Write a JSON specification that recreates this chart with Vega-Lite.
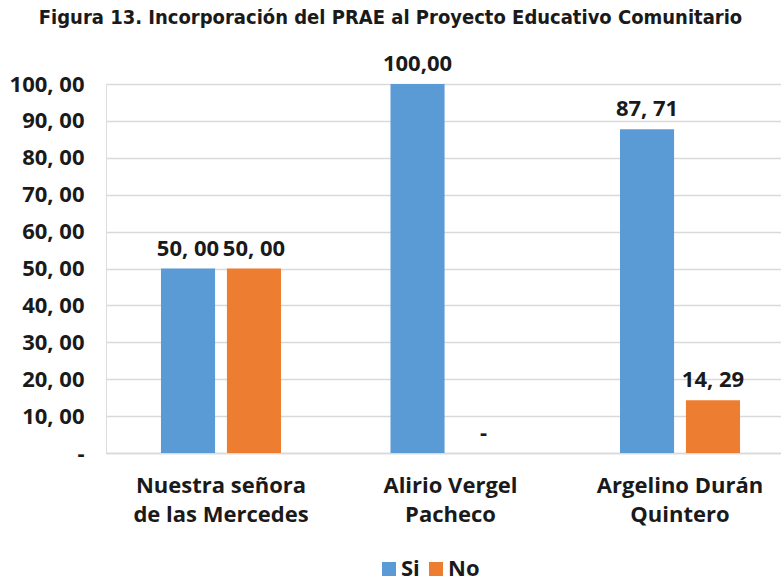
{
  "$schema": "https://vega.github.io/schema/vega-lite/v6.json",
  "width": 675,
  "height": 369,
  "autosize": {"type": "none"},
  "padding": {"left": 106, "top": 84, "right": 0, "bottom": 131},
  "background": "white",
  "title": {
    "text": "Figura 13. Incorporación del PRAE al Proyecto Educativo Comunitario",
    "font": "Liberation Sans Narrow, DejaVu Sans Condensed, sans-serif",
    "fontSize": 20,
    "fontWeight": "bold",
    "color": "#1a1a1a",
    "anchor": "middle",
    "frame": "group",
    "dx": -53,
    "offset": 25
  },
  "data": {
    "values": [
      {"escuela": "Nuestra señora de las Mercedes", "resp": "Si", "valor": 50, "etiqueta": "50, 00"},
      {"escuela": "Nuestra señora de las Mercedes", "resp": "No", "valor": 50, "etiqueta": "50, 00"},
      {"escuela": "Alirio Vergel Pacheco", "resp": "Si", "valor": 100, "etiqueta": "100,00"},
      {"escuela": "Alirio Vergel Pacheco", "resp": "No", "valor": 0, "etiqueta": "-"},
      {"escuela": "Argelino Durán Quintero", "resp": "Si", "valor": 87.71, "etiqueta": "87, 71"},
      {"escuela": "Argelino Durán Quintero", "resp": "No", "valor": 14.29, "etiqueta": "14, 29"}
    ]
  },
  "encoding": {
    "x": {
      "field": "escuela",
      "type": "nominal",
      "sort": null,
      "scale": {"paddingInner": 0.477, "paddingOuter": 0.209, "align": 0.573},
      "axis": {
        "title": null,
        "labelAngle": 0,
        "domain": true,
        "domainColor": "#d9d9d9",
        "domainWidth": 1.5,
        "ticks": false,
        "labelPadding": 22,
        "labelFont": "Open Sans",
        "labelFontWeight": "bold",
        "labelFontSize": 22,
        "labelColor": "#1a1a1a",
        "labelLineHeight": 29,
        "labelLimit": 300,
        "labelExpr": "datum.value == 'Nuestra señora de las Mercedes' ? ['Nuestra señora', 'de las Mercedes'] : datum.value == 'Alirio Vergel Pacheco' ? ['Alirio Vergel', 'Pacheco'] : ['Argelino Durán', 'Quintero']"
      }
    },
    "xOffset": {
      "field": "resp",
      "type": "nominal",
      "sort": ["Si", "No"],
      "scale": {"paddingInner": 0.18, "paddingOuter": 0}
    },
    "y": {
      "field": "valor",
      "type": "quantitative",
      "scale": {"domain": [0, 100], "nice": false},
      "axis": {
        "title": null,
        "values": [0, 10, 20, 30, 40, 50, 60, 70, 80, 90, 100],
        "domain": false,
        "ticks": false,
        "labelPadding": 22,
        "labelFont": "Open Sans",
        "labelFontWeight": "bold",
        "labelFontSize": 22,
        "labelColor": "#1a1a1a",
        "gridColor": "#d9d9d9",
        "gridWidth": 1.5,
        "labelExpr": "datum.value == 0 ? '-' : replace(format(datum.value, '.2f'), '.', ', ')"
      }
    }
  },
  "layer": [
    {
      "mark": {"type": "bar"},
      "encoding": {
        "color": {
          "field": "resp",
          "type": "nominal",
          "scale": {"domain": ["Si", "No"], "range": ["#5B9BD5", "#ED7D31"]},
          "legend": {
            "orient": "none",
            "legendX": 272,
            "legendY": 474,
            "direction": "horizontal",
            "title": null,
            "symbolType": "square",
            "symbolSize": 196,
            "symbolStrokeWidth": 0,
            "labelFont": "Open Sans",
            "labelFontWeight": "bold",
            "labelFontSize": 22,
            "labelColor": "#1a1a1a",
            "labelOffset": 1,
            "columnPadding": 5
          }
        }
      }
    },
    {
      "mark": {
        "type": "text",
        "baseline": "bottom",
        "dy": -8,
        "font": "Open Sans",
        "fontWeight": "bold",
        "fontSize": 22,
        "color": "#1a1a1a"
      },
      "encoding": {
        "text": {"field": "etiqueta", "type": "nominal"}
      }
    }
  ]
}
